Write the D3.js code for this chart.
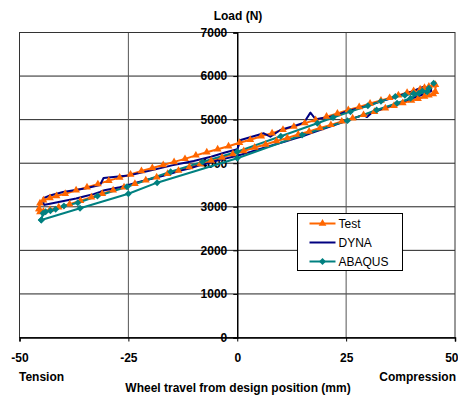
<!DOCTYPE html>
<meta charset="utf-8">
<head><title>Load vs wheel travel</title>
<style>
body { margin: 0; background: #fff; }
text { font-family: Arial, "Liberation Sans", sans-serif; }
.ticks text { font-weight: bold; font-size: 12px; }
</style>
</head>
<body>
<svg width="458" height="395"></svg>
<script src="https://d3js.org/d3.v7.min.js"></script>
<script>

// data (x = wheel travel mm, y = load N), each loop in drawing order
var testX = [-45.5, -45.3, -44.5, -43, -41, -38.5, -36, -33.5, -31, -28.5, -26, -23.5, -21, -18.5, -16, -13.5, -11, -8.5, -6, -3.5, -1, 1.5, 4, 6.5, 9, 11.5, 14, 16.5, 19, 21.5, 24, 26.5, 29, 31.5, 34, 36, 38, 40, 41.5, 43, 44, 45, 45.5,
             45.5, 45, 44, 43, 42, 40.5, 39, 37, 35, 33, 30.5, 28, 25.5, 23, 20.5, 18, 15.5, 13, 10.5, 8, 5.5, 3, 0.5, -2, -4.5, -7, -9.5, -12, -14.5, -17, -19.5, -22, -24.5, -27, -29.5, -32, -34.5, -37, -39.5, -41.5, -43, -44.5, -45.3, -45.5];
var testY = [2950, 2880, 2890, 2930, 2990, 3060, 3140, 3220, 3300, 3380, 3450, 3530, 3610, 3680, 3760, 3830, 3910, 3980, 4060, 4130, 4210, 4280, 4360, 4430, 4510, 4580, 4660, 4730, 4810, 4880, 4960, 5030, 5110, 5180, 5260, 5320, 5380, 5440, 5480, 5530, 5560, 5590, 5640,
             5800, 5790, 5760, 5730, 5700, 5660, 5620, 5560, 5500, 5440, 5370, 5290, 5220, 5140, 5070, 4990, 4920, 4840, 4770, 4690, 4620, 4540, 4470, 4390, 4320, 4250, 4180, 4100, 4030, 3960, 3890, 3820, 3740, 3670, 3600, 3520, 3450, 3380, 3300, 3250, 3200, 3150, 3080, 2950];

var dynaX = [-44.5, -43, -41, -39, -37, -35, -33, -31.5, -30.5, -29, -27, -25, -23, -21, -19, -17, -15, -13, -11, -9, -7, -5, -3, -1, 1, 3, 5, 7, 9, 11, 13, 15, 17, 19, 21, 23, 25, 27, 29, 29.8, 31, 33, 35, 37, 39, 41, 43, 44.5,
             44.5, 42.8, 40, 37.5, 35, 33, 30, 27, 25, 23.7, 21.4, 18, 16.8, 15.3, 13.8, 9.9, 7.6, 6.1, 0.8, 0, -3, -6, -10, -12, -15, -20, -25, -30.7, -31.5, -35, -40, -43, -44.5, -44.5];
var dynaY = [3040, 3070, 3110, 3150, 3190, 3240, 3290, 3340, 3380, 3410, 3450, 3500, 3560, 3610, 3660, 3710, 3770, 3830, 3880, 3940, 3990, 4050, 4100, 4150, 4200, 4260, 4320, 4380, 4440, 4500, 4560, 4620, 4690, 4760, 4830, 4900, 4970, 5040, 5110, 5060, 5170, 5240, 5310, 5380, 5450, 5520, 5590, 5650,
             5700, 5756, 5640, 5560, 5480, 5420, 5320, 5240, 5190, 5130, 5068, 5008, 5160, 4930, 4877, 4762, 4609, 4686, 4533, 4320, 4240, 4150, 4050, 4010, 3950, 3830, 3720, 3660, 3500, 3420, 3340, 3260, 3200, 3040];

var abaqusX = [-45, -36.1, -25, -18.4, 0, 14.9, 25.3, 32, 36.7, 39.8, 41.7, 43.6, 45.1,
               44, 42.5, 40.5, 38.5, 36.3, 33, 30, 26, 22, 18.4, 10, 0, -8, -15.3, -25.3, -32.1, -36.6, -39.8, -41.7, -42.9, -44, -44.6, -45];
var abaqusY = [2697, 2965, 3300, 3553, 4113, 4648, 4977, 5222, 5375, 5490, 5605, 5642, 5834,
               5720, 5660, 5600, 5560, 5530, 5420, 5320, 5183, 5050, 4916, 4620, 4265, 4030, 3805, 3461, 3248, 3094, 3018, 2942, 2910, 2887, 2850, 2697];

var xTicks = [-50, -25, 0, 25, 50];
var yTicks = [0, 1000, 2000, 3000, 4000, 5000, 6000, 7000];

var series = [
  { name: "Test",   xs: testX,   ys: testY,   colour: "#ff6600", marker: "triangle" },
  { name: "DYNA",   xs: dynaX,   ys: dynaY,   colour: "#000080", marker: null },
  { name: "ABAQUS", xs: abaqusX, ys: abaqusY, colour: "#008080", marker: "diamond" }
];

var svg = d3.select("svg");

var x = d3.scaleLinear().domain([-50, 50]).range([19.5, 455]);
var y = d3.scaleLinear().domain([0, 7000]).range([337.5, 32.5]);

// gridlines
svg.append("g").selectAll("line")
  .data(yTicks).enter().append("line")
    .attr("x1", x(-50)).attr("x2", x(50))
    .attr("y1", function(d) { return y(d); })
    .attr("y2", function(d) { return y(d); })
    .attr("stroke", "#222").attr("stroke-width", 1);

svg.append("g").selectAll("line")
  .data([-25, 25]).enter().append("line")
    .attr("x1", function(d) { return x(d); })
    .attr("x2", function(d) { return x(d); })
    .attr("y1", y(0)).attr("y2", y(7000))
    .attr("stroke", "#555").attr("stroke-width", 1);

// plot border
svg.append("rect")
  .attr("x", x(-50)).attr("y", y(7000))
  .attr("width", x(50) - x(-50)).attr("height", y(0) - y(7000))
  .attr("fill", "none").attr("stroke", "#333").attr("stroke-width", 1);

// x axis along the bottom (plain hyphen minus like the original)
var xAxis = svg.append("g")
  .attr("class", "ticks")
  .attr("transform", "translate(0," + y(0) + ")")
  .call(d3.axisBottom(x).tickValues(xTicks).tickSize(4).tickPadding(12).tickFormat(function(d) { return String(d); }));
xAxis.select(".domain").attr("stroke", "#000").attr("stroke-width", 1.5);
// last label sits at the right edge, keep it inside
xAxis.selectAll(".tick text").filter(function(d) { return d == 50; })
  .attr("text-anchor", "end").attr("x", 458 - x(50));

// y axis through zero
var yAxis = svg.append("g")
  .attr("class", "ticks")
  .attr("transform", "translate(" + x(0) + ",0)")
  .call(d3.axisLeft(y).tickValues(yTicks).tickSize(4).tickPadding(6).tickFormat(function(d) { return String(d); }));
yAxis.select(".domain").attr("stroke", "#000").attr("stroke-width", 1.5);

// lines
var line = d3.line()
  .x(function(d) { return x(d[0]); })
  .y(function(d) { return y(d[1]); });

series.forEach(function(s) {
  s.points = s.xs.map(function(v, i) { return [v, s.ys[i]]; });
  svg.append("path")
    .datum(s.points)
    .attr("d", line)
    .attr("fill", "none")
    .attr("stroke", s.colour)
    .attr("stroke-width", 2)
    .attr("stroke-linejoin", "round");
});

function markerPath(kind) {
  if (kind == "triangle") return d3.symbol(d3.symbolTriangle, 26)();
  return d3.symbol(d3.symbolSquare, 24)();
}

series.forEach(function(s) {
  if (!s.marker) return;
  svg.append("g").selectAll("path")
    .data(s.points).enter().append("path")
      .attr("d", markerPath(s.marker))
      .attr("transform", function(d) {
        return "translate(" + x(d[0]) + "," + y(d[1]) + ")" + (s.marker == "diamond" ? " rotate(45)" : "");
      })
      .attr("fill", s.colour);
});

// titles
svg.append("text").attr("x", 238).attr("y", 20).attr("text-anchor", "middle")
  .style("font-weight", "bold").style("font-size", "12px").text("Load (N)");
svg.append("text").attr("x", 19).attr("y", 381)
  .style("font-weight", "bold").style("font-size", "12px").text("Tension");
svg.append("text").attr("x", 456).attr("y", 381).attr("text-anchor", "end")
  .style("font-weight", "bold").style("font-size", "12px").text("Compression");
svg.append("text").attr("x", 238).attr("y", 392).attr("text-anchor", "middle")
  .style("font-weight", "bold").style("font-size", "12px").text("Wheel travel from design position (mm)");

// legend
var legend = svg.append("g").attr("transform", "translate(297.5,213.5)");
legend.append("rect").attr("width", 105).attr("height", 57)
  .attr("fill", "#fff").attr("stroke", "#000").attr("stroke-width", 1);
var item = legend.selectAll("g.item")
  .data(series).enter().append("g")
    .attr("class", "item")
    .attr("transform", function(d, i) { return "translate(0," + (10 + i * 19) + ")"; });
item.append("line")
  .attr("x1", 12).attr("x2", 38).attr("y1", 0).attr("y2", 0)
  .attr("stroke", function(d) { return d.colour; }).attr("stroke-width", 2);
item.filter(function(d) { return d.marker; }).append("path")
  .attr("d", function(d) { return markerPath(d.marker); })
  .attr("transform", function(d) { return "translate(25,0)" + (d.marker == "diamond" ? " rotate(45)" : ""); })
  .attr("fill", function(d) { return d.colour; });
item.append("text")
  .attr("x", 41).attr("y", 4.5)
  .style("font-size", "12px")
  .text(function(d) { return d.name; });

</script>
</body>
